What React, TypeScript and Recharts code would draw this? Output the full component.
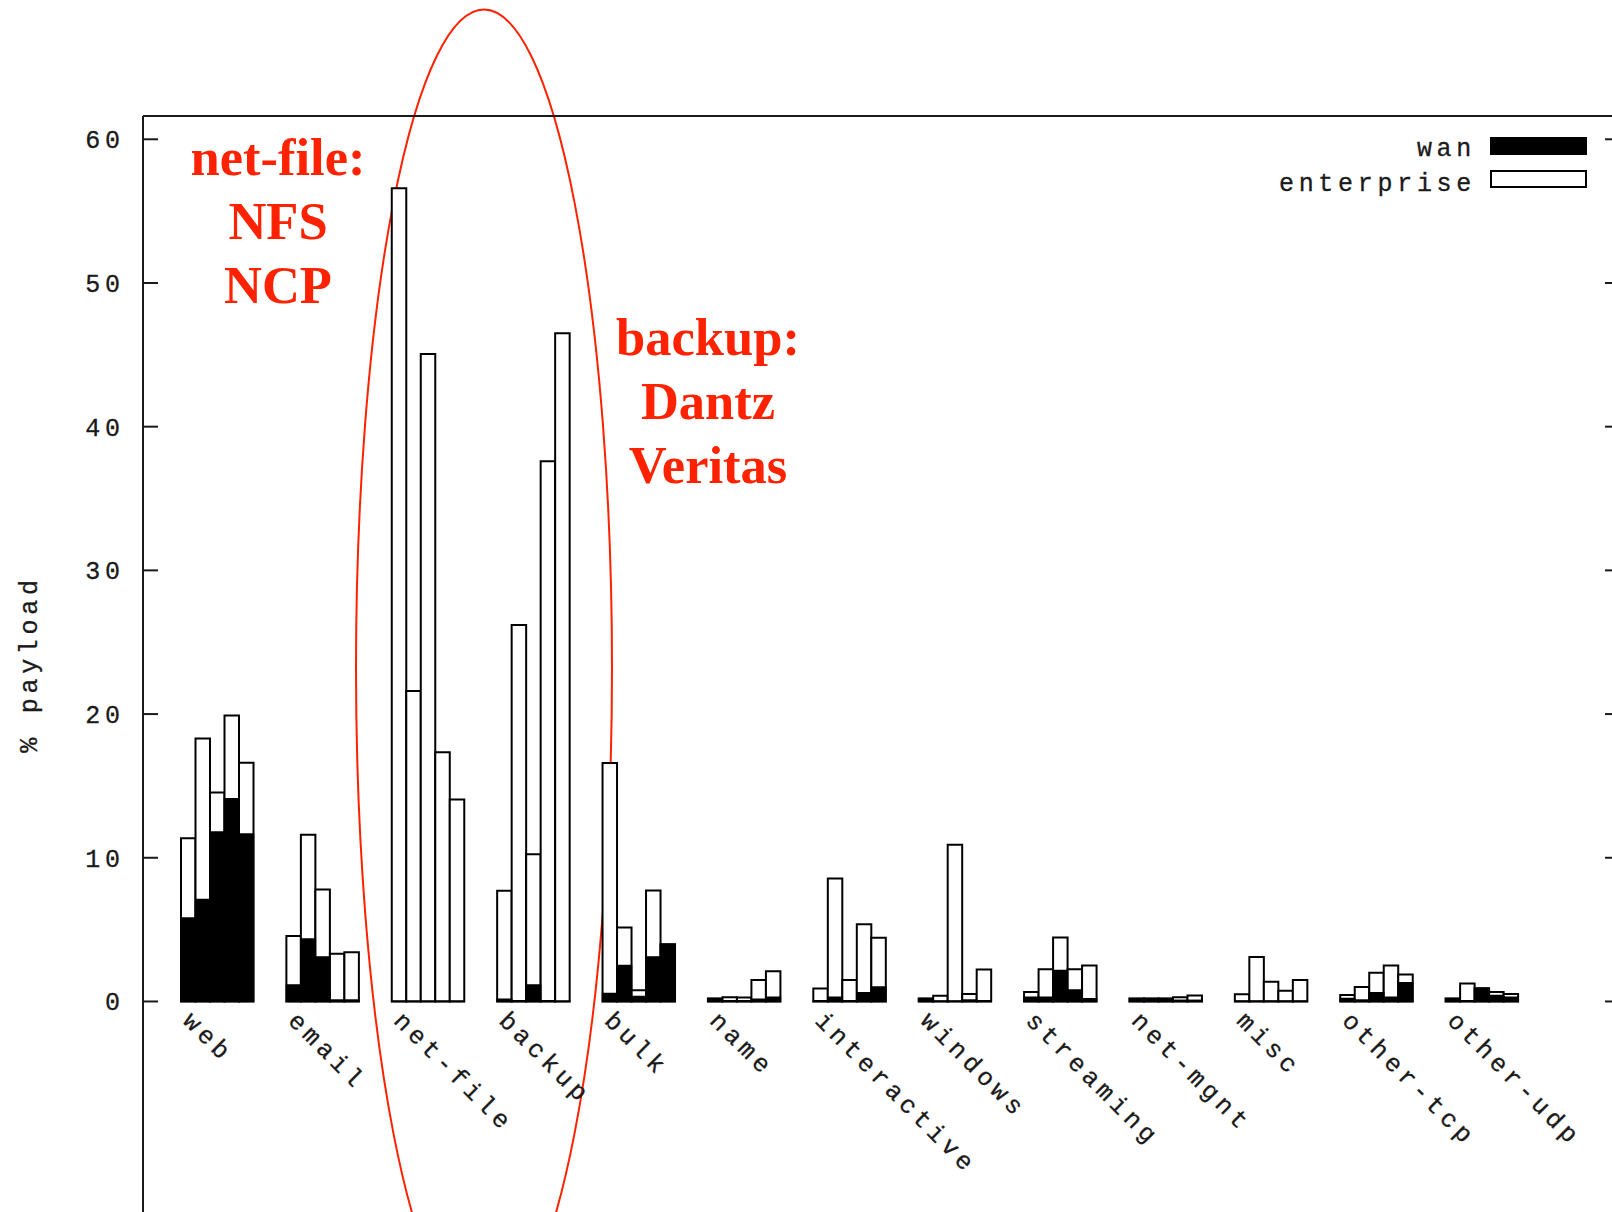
import { BarChart, Bar, XAxis, YAxis, ReferenceLine } from 'recharts'

// application categories along the x axis
const CATEGORIES = [
  'web', 'email', 'net-file', 'backup', 'bulk', 'name', 'interactive',
  'windows', 'streaming', 'net-mgnt', 'misc', 'other-tcp', 'other-udp',
]

// one cluster bar per trace
const TRACES = ['D0', 'D1', 'D2', 'D3', 'D4']

// % of payload bytes, all traffic (white bars)
const ENTERPRISE_D0 = [11.35, 4.55, 56.6, 7.7, 16.6, 0.2, 0.9, 0.2, 0.65, 0.2, 0.5, 0.45, 0.2]
const ENTERPRISE_D1 = [18.3, 11.6, 21.6, 26.2, 5.15, 0.3, 8.55, 0.4, 2.25, 0.2, 3.1, 1.0, 1.25]
const ENTERPRISE_D2 = [14.55, 7.8, 45.05, 10.25, 0.78, 0.28, 1.5, 10.9, 4.45, 0.2, 1.38, 2.0, 0.92]
const ENTERPRISE_D3 = [19.9, 3.32, 17.35, 37.6, 7.72, 1.5, 5.38, 0.52, 2.25, 0.3, 0.75, 2.5, 0.66]
const ENTERPRISE_D4 = [16.62, 3.43, 14.05, 46.5, 3.98, 2.1, 4.43, 2.23, 2.5, 0.42, 1.5, 1.88, 0.52]

// % of payload bytes crossing the wan (black bars)
const WAN_D0 = [5.8, 1.15, 0.02, 0.15, 0.55, 0.2, 0.05, 0.2, 0.3, 0.2, 0.03, 0.2, 0.2]
const WAN_D1 = [7.1, 4.35, 0.02, 0.05, 2.5, 0.05, 0.3, 0.03, 0.3, 0.2, 0.03, 0.1, 0.05]
const WAN_D2 = [11.8, 3.1, 0.02, 1.15, 0.35, 0.05, 0.05, 0.03, 2.15, 0.2, 0.03, 0.6, 0.92]
const WAN_D3 = [14.1, 0.1, 0.02, 0.05, 3.1, 0.15, 0.6, 0.1, 0.8, 0.08, 0.03, 0.3, 0.42]
const WAN_D4 = [11.65, 0.1, 0.02, 0.02, 3.98, 0.3, 1.0, 0.05, 0.18, 0.08, 0.03, 1.3, 0.3]

const Y_TICKS = [0, 10, 20, 30, 40, 50, 60]
const SERIES_LABELS = ['wan', 'enterprise']
const NET_FILE_NOTE = ['net-file:', 'NFS', 'NCP']
const BACKUP_NOTE = ['backup:', 'Dantz', 'Veritas']

const ENTERPRISE = [ENTERPRISE_D0, ENTERPRISE_D1, ENTERPRISE_D2, ENTERPRISE_D3, ENTERPRISE_D4]
const WAN = [WAN_D0, WAN_D1, WAN_D2, WAN_D3, WAN_D4]

const data = CATEGORIES.map((name, i) => {
  const row: Record<string, string | number> = { name }
  TRACES.forEach((t, k) => {
    row[`ent_${t}`] = ENTERPRISE[k][i]
    row[`wan_${t}`] = WAN[k][i]
  })
  return row
})

// layout
const CHART_W = 1630
const CHART_H = 1240
const MARGIN = { top: 116, right: 0, bottom: 0, left: 43 }
const X_AXIS_H = 24
const PLOT_H = CHART_H - MARGIN.top - MARGIN.bottom - X_AXIS_H
const Y_MIN = -14.93
const Y_MAX = 61.62
const ZERO_Y = MARGIN.top + (PLOT_H * Y_MAX) / (Y_MAX - Y_MIN)
const BAR_W = 14.5
const X_PAD = { left: 22, right: 85 }

const MONO = "'Liberation Mono', 'DejaVu Sans Mono', monospace"
const SERIF = "'Liberation Serif', 'Times New Roman', serif"
const RED = '#ff2200'
const INK = '#1a1a1a'

const CategoryTick = ({ x, payload }: any) => {
  const x0 = x - 36
  const y0 = ZERO_Y + 20.5
  return (
    <text
      x={x0}
      y={y0}
      transform={`rotate(45 ${x0} ${y0})`}
      textAnchor="start"
      fontFamily={MONO}
      fontSize={25}
      letterSpacing={4.7}
      fill={INK}
      stroke={INK}
      strokeWidth={0.3}
    >
      {payload.value}
    </text>
  )
}

const ValueTick = ({ x, y, payload }: any) => (
  <text
    x={x + 4.7}
    y={y}
    dy="0.36em"
    textAnchor="end"
    fontFamily={MONO}
    fontSize={25}
    letterSpacing={4.7}
    fill={INK}
    stroke={INK}
    strokeWidth={0.3}
  >
    {payload.value}
  </text>
)

export default function App() {
  return (
    <div
      style={{
        position: 'fixed',
        left: 0,
        top: 0,
        width: 1612,
        height: 1212,
        overflow: 'hidden',
        background: '#fff',
      }}
    >
      <BarChart width={CHART_W} height={CHART_H} data={data} margin={MARGIN} barGap={0}>
        <XAxis
          xAxisId="ent"
          dataKey="name"
          height={X_AXIS_H}
          padding={X_PAD}
          axisLine={false}
          tickLine={false}
          interval={0}
          tick={(props: any) => <CategoryTick {...props} />}
        />
        <XAxis xAxisId="wan" dataKey="name" padding={X_PAD} hide />
        <YAxis
          yAxisId="left"
          type="number"
          width={100}
          domain={[Y_MIN, Y_MAX]}
          allowDataOverflow
          ticks={Y_TICKS}
          interval={0}
          tickSize={-15}
          tickMargin={38}
          axisLine={{ stroke: INK, strokeWidth: 2 }}
          tickLine={{ stroke: INK, strokeWidth: 2 }}
          tick={(props: any) => <ValueTick {...props} />}
        />
        <YAxis
          yAxisId="right"
          orientation="right"
          type="number"
          width={10}
          domain={[Y_MIN, Y_MAX]}
          allowDataOverflow
          ticks={Y_TICKS}
          interval={0}
          tickSize={-15}
          axisLine={{ stroke: INK, strokeWidth: 2 }}
          tickLine={{ stroke: INK, strokeWidth: 2 }}
          tickFormatter={() => ''}
        />
        <ReferenceLine yAxisId="left" xAxisId="ent" y={Y_MAX} stroke={INK} strokeWidth={2} />

        {TRACES.map((t) => (
          <Bar
            key={`ent_${t}`}
            xAxisId="ent"
            yAxisId="left"
            dataKey={`ent_${t}`}
            barSize={BAR_W}
            fill="#fff"
            stroke="#000"
            strokeWidth={2}
            isAnimationActive={false}
          />
        ))}
        {TRACES.map((t) => (
          <Bar
            key={`wan_${t}`}
            xAxisId="wan"
            yAxisId="left"
            dataKey={`wan_${t}`}
            barSize={BAR_W}
            fill="#000"
            stroke="#000"
            strokeWidth={1.5}
            isAnimationActive={false}
          />
        ))}

        {/* axis title */}
        <text
          x={37}
          y={664}
          transform="rotate(-90 37 664)"
          textAnchor="middle"
          fontFamily={MONO}
          fontSize={25}
          letterSpacing={4.7}
          fill={INK}
          stroke={INK}
          strokeWidth={0.3}
        >
          % payload
        </text>

        {/* key */}
        <g fontFamily={MONO} fontSize={25} letterSpacing={4.7} fill={INK} stroke={INK} strokeWidth={0.3}>
          {SERIES_LABELS.map((label, i) => (
            <g key={label}>
              <text x={1476} y={146.7 + i * 35} dy="0.36em" textAnchor="end">
                {label}
              </text>
              <rect
                x={1491}
                y={138 + i * 33}
                width={95}
                height={16}
                fill={label === 'wan' ? '#000' : '#fff'}
                stroke="#000"
                strokeWidth={2}
              />
            </g>
          ))}
        </g>

        {/* callouts */}
        <ellipse cx={484} cy={668} rx={128} ry={658.5} fill="none" stroke={RED} strokeWidth={2} />
        <text textAnchor="middle" fontFamily={SERIF} fontWeight="bold" fontSize={52.5} fill={RED}>
          {NET_FILE_NOTE.map((line, i) => (
            <tspan key={line} x={278} y={175 + i * 64}>
              {line}
            </tspan>
          ))}
        </text>
        <text textAnchor="middle" fontFamily={SERIF} fontWeight="bold" fontSize={52.5} fill={RED}>
          {BACKUP_NOTE.map((line, i) => (
            <tspan key={line} x={708} y={355 + i * 64}>
              {line}
            </tspan>
          ))}
        </text>
      </BarChart>
    </div>
  )
}
